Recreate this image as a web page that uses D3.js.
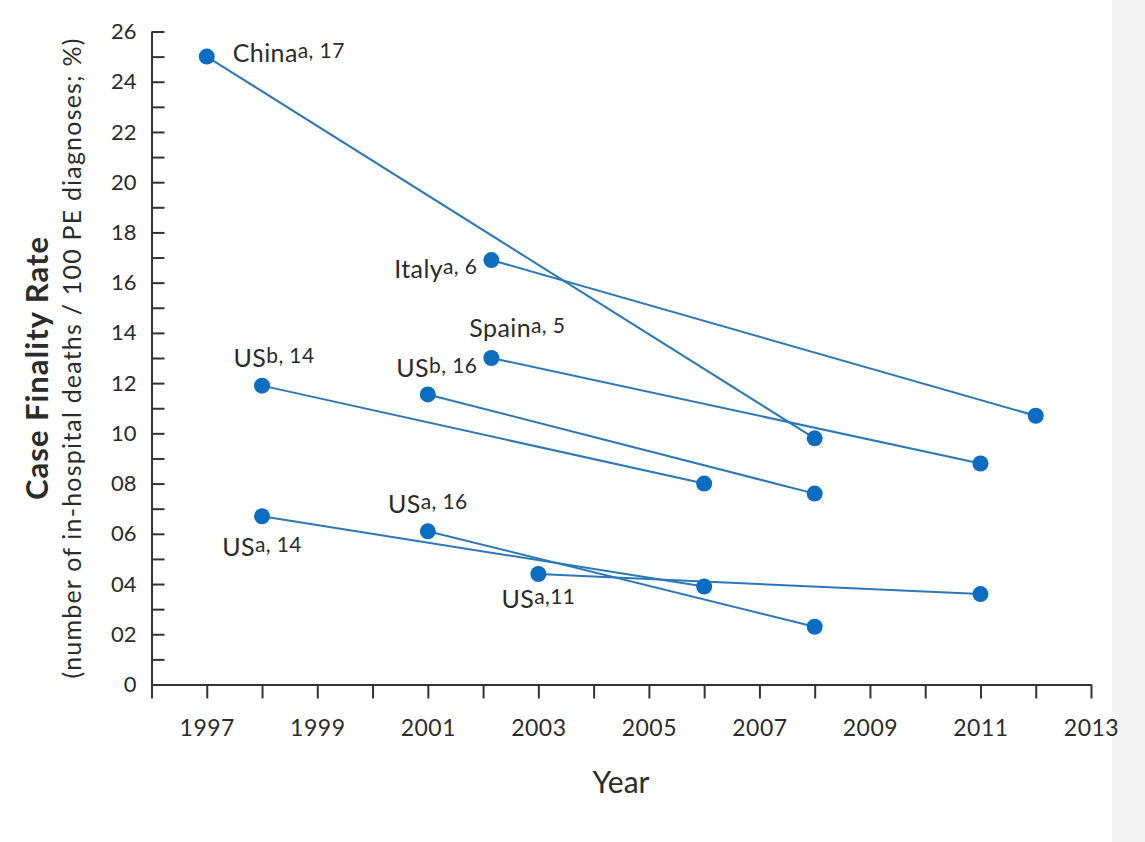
<!DOCTYPE html>
<html>
<head>
<meta charset="utf-8">
<script src="https://cdn.jsdelivr.net/npm/d3@7"></script>
<style>
  html, body { margin: 0; padding: 0; background: #ffffff; }
  svg { display: block; }
  text { font-family: Lato, "Open Sans", sans-serif; fill: #2b2b2b; }
</style>
</head>
<body>
<svg id="chart" width="1145" height="842"></svg>
<script>
// Case fatality rate studies: each study has a start and end observation
const studyNames  = ["China", "Italy", "Spain", "US", "US", "US", "US", "US"];
const studyNotes  = ["a", "a", "a", "b", "b", "a", "a", "a"];
const studyRefs   = ["17", "6", "5", "14", "16", "14", "16", "11"];
const startYears  = [1997, 2002.15, 2002.15, 1998, 2001, 1998, 2001, 2003];
const startRates  = [25.0, 16.9, 13.0, 11.9, 11.55, 6.7, 6.1, 4.4];
const endYears    = [2008, 2012, 2011, 2006, 2008, 2006, 2008, 2011];
const endRates    = [9.8, 10.7, 8.8, 8.0, 7.6, 3.9, 2.3, 3.6];

const xTickYears  = [1997, 1999, 2001, 2003, 2005, 2007, 2009, 2011, 2013];
const yTickLabels = ["0", "02", "04", "06", "08", "10", "12", "14", "16", "18", "20", "22", "24", "26"];

// label placement relative to each study's first point
const labelLayout = [
  { anchor: "start",  dx: 26,  dy: 5 },
  { anchor: "end",    dx: -14, dy: 18 },
  { anchor: "middle", dx: 26,  dy: -21 },
  { anchor: "middle", dx: 12,  dy: -19 },
  { anchor: "middle", dx: 9,   dy: -17 },
  { anchor: "middle", dx: 0,   dy: 40 },
  { anchor: "middle", dx: 0,   dy: -18 },
  { anchor: "middle", dx: 0,   dy: 34 }
];

const svg = d3.select("#chart");

// light strip along the right edge
svg.append("rect").attr("x", 1112).attr("y", 0).attr("width", 33).attr("height", 842).attr("fill", "#f4f4f4");

const x = d3.scaleLinear().domain([1996, 2013]).range([151.5, 1091]);
const y = d3.scaleLinear().domain([0, 26]).range([684.5, 31.5]);

const axisColor = "#333333";

// X axis: a tick every year, labels on odd years
const xAxis = d3.axisBottom(x)
  .tickValues(d3.range(1996, 2014))
  .tickSize(14)
  .tickSizeOuter(0)
  .tickFormat(d => xTickYears.includes(d) ? String(d) : "");
const gx = svg.append("g").attr("transform", `translate(0,${y(0)})`).call(xAxis);
gx.select(".domain").attr("stroke", axisColor).attr("stroke-width", 2);
gx.selectAll(".tick line").attr("stroke", axisColor).attr("stroke-width", 2);
gx.selectAll(".tick text").attr("font-size", 23).attr("dy", 0).attr("y", 51)
  .attr("letter-spacing", 0.5)
  .attr("font-family", "Lato, sans-serif").attr("fill", "#2b2b2b");

// Y axis: inward ticks every unit, labels on even values
const yAxis = d3.axisLeft(y)
  .tickValues(d3.range(0, 27))
  .tickSize(-13)
  .tickSizeOuter(0)
  .tickFormat(d => d % 2 === 0 ? yTickLabels[d / 2] : "");
const gy = svg.append("g").attr("transform", `translate(${x(1996)},0)`).call(yAxis);
gy.select(".domain").attr("stroke", axisColor).attr("stroke-width", 2);
gy.selectAll(".tick line").attr("stroke", axisColor).attr("stroke-width", 2);
gy.selectAll(".tick text").attr("font-size", 22).attr("x", -15)
  .attr("font-family", "Lato, sans-serif").attr("fill", "#2b2b2b");

// Axis titles
svg.append("text")
  .attr("x", 621).attr("y", 793)
  .attr("text-anchor", "middle")
  .attr("font-size", 30)
  .text("Year");

svg.append("text")
  .attr("transform", "translate(48,368) rotate(-90)")
  .attr("text-anchor", "middle")
  .attr("font-size", 31)
  .attr("font-weight", "bold")
  .attr("letter-spacing", 1)
  .text("Case Finality Rate");

svg.append("text")
  .attr("transform", "translate(81,358) rotate(-90)")
  .attr("text-anchor", "middle")
  .attr("font-size", 25)
  .attr("letter-spacing", 1.2)
  .text("(number of in-hospital deaths / 100 PE diagnoses; %)");

// Study segments
const studies = studyNames.map((name, i) => ({
  name, note: studyNotes[i], ref: studyRefs[i],
  x0: startYears[i], y0: startRates[i], x1: endYears[i], y1: endRates[i],
  layout: labelLayout[i]
}));

svg.append("g").selectAll("line")
  .data(studies)
  .join("line")
  .attr("x1", d => x(d.x0)).attr("y1", d => y(d.y0))
  .attr("x2", d => x(d.x1)).attr("y2", d => y(d.y1))
  .attr("stroke", "#2a78b8")
  .attr("stroke-width", 2);

const points = studies.flatMap(d => [{ yr: d.x0, v: d.y0 }, { yr: d.x1, v: d.y1 }]);
svg.append("g").selectAll("circle")
  .data(points)
  .join("circle")
  .attr("cx", d => x(d.yr)).attr("cy", d => y(d.v))
  .attr("r", 8)
  .attr("fill", "#0b6dc2");

// Study labels: name, raised footnote letter and reference number
const labels = svg.append("g").selectAll("text")
  .data(studies)
  .join("text")
  .attr("x", d => x(d.x0) + d.layout.dx)
  .attr("y", d => y(d.y0) + d.layout.dy)
  .attr("text-anchor", d => d.layout.anchor)
  .attr("font-size", 25)
  .attr("letter-spacing", 0.4);
labels.append("tspan").text(d => d.name);
labels.append("tspan").attr("font-size", 21).attr("dy", -4)
  .text(d => d.note + (d.ref === "11" ? "," : ", ") + d.ref);
</script>
</body>
</html>
